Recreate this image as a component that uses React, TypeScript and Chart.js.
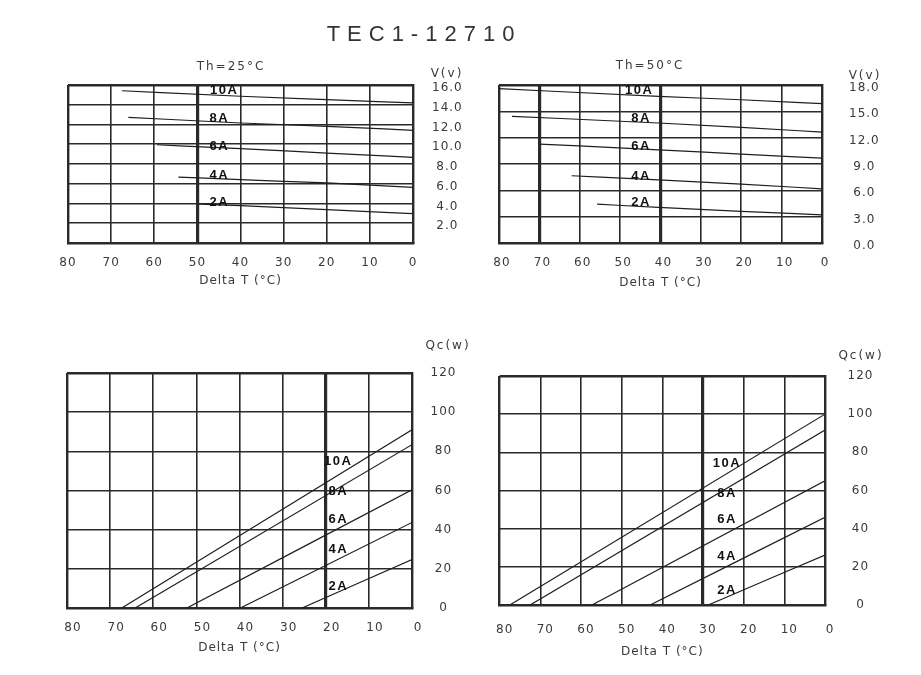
import React, { useEffect, useRef } from 'react';
import { Chart, registerables } from 'chart.js';

Chart.register(...registerables);

// ---------- DATA ----------
const currents = ['10A', '8A', '6A', '4A', '2A'];

// Voltage vs Delta T, Th = 25°C
const v25DeltaT = [
  [67.5, 40, 20, 0],
  [66, 40, 20, 0],
  [59.4, 40, 20, 0],
  [54.4, 40, 20, 0],
  [50, 40, 20, 0],
];
const v25Volts = [
  [15.42, 14.86, 14.51, 14.18],
  [12.73, 12.15, 11.82, 11.41],
  [9.95, 9.55, 9.11, 8.68],
  [6.68, 6.41, 6.08, 5.64],
  [3.95, 3.78, 3.37, 2.97],
];
const v25LabelDeltaT = [43.8, 44.9, 44.9, 44.9, 44.9];
const v25LabelVolts = [15.42, 12.59, 9.79, 6.81, 4.12];

// Voltage vs Delta T, Th = 50°C
const v50DeltaT = [
  [80, 40.5, 20, 0],
  [76.8, 40.5, 20, 0],
  [70, 40.5, 20, 0],
  [62, 40.5, 20, 0],
  [55.7, 40.5, 20, 0],
];
const v50Volts = [
  [17.58, 16.71, 16.32, 15.87],
  [14.43, 13.67, 13.17, 12.64],
  [11.27, 10.62, 10.13, 9.67],
  [7.66, 7.2, 6.71, 6.17],
  [4.43, 4.05, 3.6, 3.21],
];
const v50LabelDeltaT = [45.3, 44.8, 44.8, 44.8, 44.8];
const v50LabelVolts = [17.35, 14.16, 11.0, 7.58, 4.57];

// Cooling power Qc vs Delta T, Th = 25°C (line from Qc=0 point to Delta T = 0)
const qc25DeltaTAtZeroQ = [67.3, 64.2, 52.2, 39.8, 25.5];
const qc25QAtZeroDeltaT = [91, 83.4, 60.4, 43.7, 24.7];
const qc25LabelDeltaT = [17.1, 17.1, 17.1, 17.1, 17.1];
const qc25LabelQ = [74.7, 59.4, 45.1, 29.8, 10.9];

// Cooling power Qc vs Delta T, Th = 50°C
const qc50DeltaTAtZeroQ = [77.5, 72.5, 57.3, 43.0, 28.7];
const qc50QAtZeroDeltaT = [100, 91.7, 65.1, 46.0, 26.2];
const qc50LabelDeltaT = [24.1, 24.1, 24.1, 24.1, 24.1];
const qc50LabelQ = [74.4, 58.7, 45.1, 25.7, 7.9];

const deltaTMin = 0;
const deltaTMax = 80;
const deltaTStep = 10;

// ---------- STYLE / LAYOUT ----------
const PAD_L = 25;
const PAD_T = 40;
const PAD_R = 70;
const INK = '#2a2a2a';
const TEXT = '#3a3a3a';
const TICK_FONT = { family: '"DejaVu Sans", sans-serif', size: 12 };

type Pt = { x: number; y: number };

type PanelCfg = {
  left: number;
  top: number;
  right: number;
  bottom: number;
  yMax: number;
  yStep: number;
  decimals: number;
  hideZero: boolean;
  yPad: number;
  yLabelOffset: number;
  xPad: number;
  xLabelOffset: number;
  axisH: number;
  thick: number[];
};

function makeLabelPlugin(dT: number[], vals: number[]) {
  return {
    id: 'curveLabels',
    afterDatasetsDraw(chart: any) {
      const { ctx, scales } = chart;
      ctx.save();
      ctx.font = 'bold 13px "Liberation Sans", Arial, sans-serif';
      ctx.fillStyle = '#111';
      ctx.textAlign = 'center';
      ctx.textBaseline = 'middle';
      try { (ctx as any).letterSpacing = '1.5px'; } catch (e) { /* ignore */ }
      currents.forEach((t, i) => {
        ctx.fillText(t, scales.x.getPixelForValue(dT[i]), scales.y.getPixelForValue(vals[i]));
      });
      ctx.restore();
    },
  };
}

const spacingPlugin = {
  id: 'spacing',
  beforeDraw(chart: any) {
    try { chart.ctx.letterSpacing = '1px'; } catch (e) { /* ignore */ }
  },
};

function Panel({ cfg, series, labelDT, labelVals }: { cfg: PanelCfg; series: Pt[][]; labelDT: number[]; labelVals: number[] }) {
  const ref = useRef<HTMLCanvasElement>(null);
  const w = cfg.right - cfg.left + PAD_L + PAD_R;
  const h = cfg.bottom - cfg.top + PAD_T + cfg.axisH;

  useEffect(() => {
    const canvas = ref.current;
    if (!canvas) return;
    const gridWidth = (isX: boolean) => (c: any) => {
      const v = c.tick ? c.tick.value : null;
      if (isX && cfg.thick.includes(v)) return 3.2;
      if (isX && v === deltaTMax) return 2.4;
      if (!isX && v === cfg.yMax) return 2.4;
      return 1.6;
    };
    const chart = new Chart(canvas, {
      type: 'line',
      data: {
        datasets: series.map((pts, i) => ({
          label: currents[i],
          data: pts,
          borderColor: '#1e1e1e',
          borderWidth: 1.2,
          pointRadius: 0,
          fill: false,
          cubicInterpolationMode: 'monotone' as const,
        })),
      },
      options: {
        responsive: false,
        animation: false,
        layout: { padding: { left: PAD_L, top: PAD_T, right: 0, bottom: 0 } },
        plugins: {
          legend: { display: false },
          tooltip: { enabled: false },
          title: { display: false },
        },
        scales: {
          x: {
            type: 'linear',
            position: 'bottom',
            reverse: true,
            min: deltaTMin,
            max: deltaTMax,
            ticks: {
              stepSize: deltaTStep,
              autoSkip: false,
              maxRotation: 0,
              padding: cfg.xPad,
              labelOffset: cfg.xLabelOffset,
              color: TEXT,
              font: TICK_FONT,
            },
            grid: { drawTicks: false, color: INK, lineWidth: gridWidth(true) },
            border: { display: true, color: INK, width: 2.4 },
            title: {
              display: true,
              text: 'Delta T (°C)',
              color: TEXT,
              font: TICK_FONT,
              padding: { top: 0, bottom: 0 },
            },
            afterFit: (s: any) => { s.height = cfg.axisH; },
          },
          y: {
            type: 'linear',
            position: 'right',
            min: 0,
            max: cfg.yMax,
            ticks: {
              stepSize: cfg.yStep,
              crossAlign: 'center',
              padding: cfg.yPad,
              labelOffset: cfg.yLabelOffset,
              color: TEXT,
              font: TICK_FONT,
              callback: (v: any) => (cfg.hideZero && Number(v) === 0 ? '' : Number(v).toFixed(cfg.decimals)),
            },
            grid: { drawTicks: false, color: INK, lineWidth: gridWidth(false) },
            border: { display: true, color: INK, width: 2.4 },
            afterFit: (s: any) => { s.width = PAD_R; },
          },
        },
      } as any,
      plugins: [spacingPlugin, makeLabelPlugin(labelDT, labelVals)],
    });
    return () => chart.destroy();
  }, []);

  return (
    <div style={{ position: 'absolute', left: cfg.left - PAD_L, top: cfg.top - PAD_T, width: w, height: h }}>
      <canvas ref={ref} width={w} height={h} style={{ display: 'block', width: w, height: h }} />
    </div>
  );
}

const zipCurves = (xs: number[][], ys: number[][]): Pt[][] =>
  xs.map((row, i) => row.map((x, j) => ({ x, y: ys[i][j] })));

const linearCurves = (zeroDT: number[], qAtZero: number[]): Pt[][] =>
  zeroDT.map((d, i) => [{ x: d, y: 0 }, { x: 0, y: qAtZero[i] }]);

const cfgTL: PanelCfg = { left: 68, top: 85, right: 413, bottom: 243, yMax: 16, yStep: 2, decimals: 1, hideZero: true, yPad: 21, yLabelOffset: 3, xPad: 13, xLabelOffset: 0, axisH: 45, thick: [50] };
const cfgTR: PanelCfg = { left: 499, top: 85, right: 822, bottom: 243, yMax: 18, yStep: 3, decimals: 1, hideZero: false, yPad: 29, yLabelOffset: 3, xPad: 13, xLabelOffset: 3, axisH: 47, thick: [70, 40] };
const cfgBL: PanelCfg = { left: 67, top: 373, right: 412, bottom: 608, yMax: 120, yStep: 20, decimals: 0, hideZero: false, yPad: 20, yLabelOffset: 0, xPad: 13, xLabelOffset: 6, axisH: 47, thick: [20] };
const cfgBR: PanelCfg = { left: 499, top: 376, right: 825, bottom: 605, yMax: 120, yStep: 20, decimals: 0, hideZero: false, yPad: 24, yLabelOffset: 0, xPad: 18, xLabelOffset: 5, axisH: 54, thick: [30] };

function Label({ x, y, text, size = 12, spacing = 2, color = TEXT, family = '"DejaVu Sans", sans-serif' }: any) {
  return (
    <div
      style={{
        position: 'absolute',
        left: x,
        top: y,
        transform: 'translate(-50%, -50%)',
        fontFamily: family,
        fontSize: size,
        letterSpacing: spacing,
        color,
        lineHeight: 1,
        whiteSpace: 'nowrap',
      }}
    >
      {text}
    </div>
  );
}

export default function App() {
  return (
    <div style={{ position: 'absolute', left: 0, top: 0, width: 921, height: 675, background: '#fff', overflow: 'hidden' }}>
      <Panel cfg={cfgTL} series={zipCurves(v25DeltaT, v25Volts)} labelDT={v25LabelDeltaT} labelVals={v25LabelVolts} />
      <Panel cfg={cfgTR} series={zipCurves(v50DeltaT, v50Volts)} labelDT={v50LabelDeltaT} labelVals={v50LabelVolts} />
      <Panel cfg={cfgBL} series={linearCurves(qc25DeltaTAtZeroQ, qc25QAtZeroDeltaT)} labelDT={qc25LabelDeltaT} labelVals={qc25LabelQ} />
      <Panel cfg={cfgBR} series={linearCurves(qc50DeltaTAtZeroQ, qc50QAtZeroDeltaT)} labelDT={qc50LabelDeltaT} labelVals={qc50LabelQ} />
      <Label x={424} y={34} text="TEC1-12710" size={22} spacing={7} color="#333" family='"Liberation Sans", Arial, sans-serif' />
      <Label x={231} y={66} text="Th=25°C" />
      <Label x={650} y={65} text="Th=50°C" />
      <Label x={447} y={73} text="V(v)" />
      <Label x={865} y={75} text="V(v)" />
      <Label x={448} y={345} text="Qc(w)" />
      <Label x={861} y={355} text="Qc(w)" />
    </div>
  );
}
